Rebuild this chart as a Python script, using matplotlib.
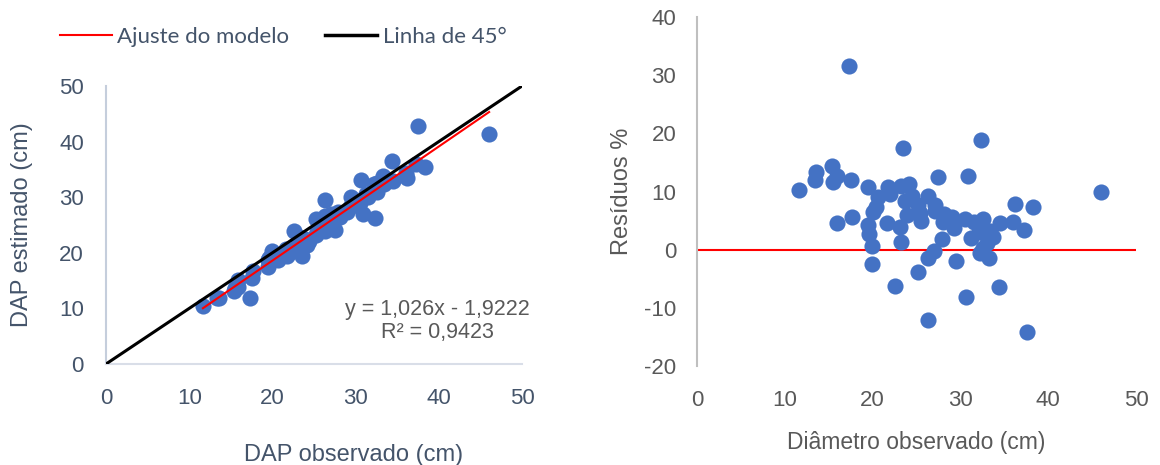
import numpy as np
import matplotlib.pyplot as plt
from matplotlib.lines import Line2D

# Diâmetro observado (cm) e resíduos (%) de cada árvore
dap_obs = [17.35, 23.5, 32.3, 15.4, 13.6, 13.4, 15.9, 15.5, 17.5, 11.65,
           19.5, 21.7, 22.0, 20.65, 23.2, 24.1, 24.45, 23.7, 27.5, 30.9,
           26.3, 25.2, 20.4, 20.1, 27.1, 27.1, 23.9, 25.4, 25.5, 17.7,
           15.9, 19.5, 19.6, 19.9, 21.6, 23.1, 23.2, 19.9, 27.9, 28.1,
           29.0, 28.05, 29.3, 30.5, 31.5, 32.6, 31.2, 32.1, 33.4, 33.75,
           34.5, 36.0, 36.2, 38.3, 37.2, 46.05, 32.2, 32.6, 33.3, 33.0,
           27.0, 26.3, 29.5, 25.2, 22.6, 30.6, 34.4, 26.3, 37.55]
residuos = [31.6, 17.5, 18.8, 14.3, 13.3, 11.9, 12.6, 11.6, 12.0, 10.3,
            10.8, 10.8, 9.6, 9.0, 11.0, 11.3, 9.2, 8.4, 12.5, 12.7,
            9.3, 7.6, 7.4, 6.4, 7.6, 6.6, 6.0, 6.3, 4.9, 5.7,
            4.5, 4.3, 2.7, 0.6, 4.5, 3.9, 1.4, -2.5, 1.9, 6.1,
            5.7, 4.7, 3.7, 5.3, 4.7, 5.2, 2.0, 3.0, 3.2, 2.2,
            4.5, 4.7, 7.8, 7.3, 3.3, 10.0, -0.5, 0.3, -1.5, 1.1,
            -0.2, -1.5, -2.0, -3.8, -6.2, -8.1, -6.4, -12.1, -14.1]
# DAP estimado (cm)
dap_est = [11.87, 19.39, 26.23, 13.20, 11.79, 11.81, 13.90, 13.70, 15.40, 10.45,
           17.39, 19.36, 19.89, 18.79, 20.65, 21.38, 22.20, 21.71, 24.06, 26.98,
           23.85, 23.28, 18.89, 18.81, 25.04, 25.31, 22.47, 23.80, 24.25, 16.69,
           15.18, 18.66, 19.07, 19.78, 20.63, 22.20, 22.88, 20.40, 27.37, 26.39,
           27.35, 26.73, 28.22, 28.88, 30.02, 30.90, 30.58, 31.14, 32.33, 33.01,
           32.95, 34.31, 33.38, 35.50, 35.97, 41.45, 32.36, 32.50, 33.80, 32.64,
           27.05, 26.69, 30.09, 26.16, 24.00, 33.08, 36.60, 29.48, 42.84]

# Ajuste linear
coef_a = 1.026
coef_b = -1.9222
r2 = 0.9423

azul = '#4472C4'
cor_esq = '#44546A'
cor_dir = '#595959'

plt.rcParams['font.family'] = ['Liberation Sans', 'DejaVu Sans']
plt.rcParams['axes.unicode_minus'] = False

fig = plt.figure(figsize=(11.6, 4.65), dpi=100)

# Gráfico 1: observado x estimado
ax1 = fig.add_axes([106/1160, 1-364/465, 416/1160, 278/465])
x = np.array(dap_obs)
ax1.scatter(x, dap_est, s=135, color=azul, zorder=2, linewidths=0)
xf = np.array([x.min(), x.max()])
ax1.plot(xf, coef_a*xf + coef_b, color='#FF0000', lw=1.5, zorder=3)
ax1.plot([0, 50], [0, 50], color='black', lw=2.2, zorder=3)
ax1.set_xlim(0, 50)
ax1.set_ylim(0, 50)
ax1.set_xticks(range(0, 51, 10))
ax1.set_yticks(range(0, 51, 10))
ax1.tick_params(length=0, labelsize=16, colors=cor_esq)
ax1.tick_params(axis='x', pad=17)
ax1.tick_params(axis='y', pad=16)
for s in ['top', 'right']:
    ax1.spines[s].set_visible(False)
ax1.spines['left'].set_color('#C5CEDC')
ax1.spines['bottom'].set_color('#D9DEE8')
ax1.spines['left'].set_linewidth(1.5)
ax1.spines['bottom'].set_linewidth(1.5)
ax1.set_xlabel('DAP observado (cm)', fontsize=17, color=cor_esq)
ax1.set_ylabel('DAP estimado (cm)', fontsize=17, color=cor_esq)
ax1.xaxis.set_label_coords(0.594, -0.286)
ax1.yaxis.set_label_coords(-0.175, 0.5)
ax1.text((437-106)/416, (364-321)/278, 'y = 1,026x - 1,9222\nR² = 0,9423',
         transform=ax1.transAxes, ha='center', va='center', fontsize=15.5,
         color=cor_dir, linespacing=1.1)

handles = [Line2D([], [], color='#FF0000', lw=1.5),
           Line2D([], [], color='black', lw=2.5)]
fig.legend(handles, ['Ajuste do modelo', 'Linha de 45°'], loc='center',
           bbox_to_anchor=(283/1160, 1-37/465), ncol=2, frameon=False,
           handlelength=2.35, handletextpad=0.25, columnspacing=1.6,
           prop={'family': 'Lato', 'size': 16}, labelcolor=cor_esq)

# Gráfico 2: resíduos
ax2 = fig.add_axes([697/1160, 1-366/465, 439/1160, 349/465])
ax2.scatter(dap_obs, residuos, s=135, color=azul, zorder=2, linewidths=0)
ax2.axhline(0, color='#FF0000', lw=1.5, zorder=1)
ax2.set_xlim(0, 50)
ax2.set_ylim(-20, 40)
ax2.set_xticks(range(0, 51, 10))
ax2.set_yticks(range(-20, 41, 10))
ax2.tick_params(length=0, labelsize=16, colors=cor_dir)
ax2.tick_params(axis='x', pad=17)
ax2.tick_params(axis='y', pad=15)
for s in ['top', 'right', 'bottom']:
    ax2.spines[s].set_visible(False)
ax2.spines['left'].set_color('#BFBFBF')
ax2.spines['left'].set_linewidth(1.5)
ax2.set_xlabel('Diâmetro observado (cm)', fontsize=16.5, color=cor_dir)
ax2.set_ylabel('Resíduos %', fontsize=17, color=cor_dir)
ax2.xaxis.set_label_coords(0.5, -0.186)
ax2.yaxis.set_label_coords(-0.146, 0.5)

fig.savefig('out.png', dpi=100)
